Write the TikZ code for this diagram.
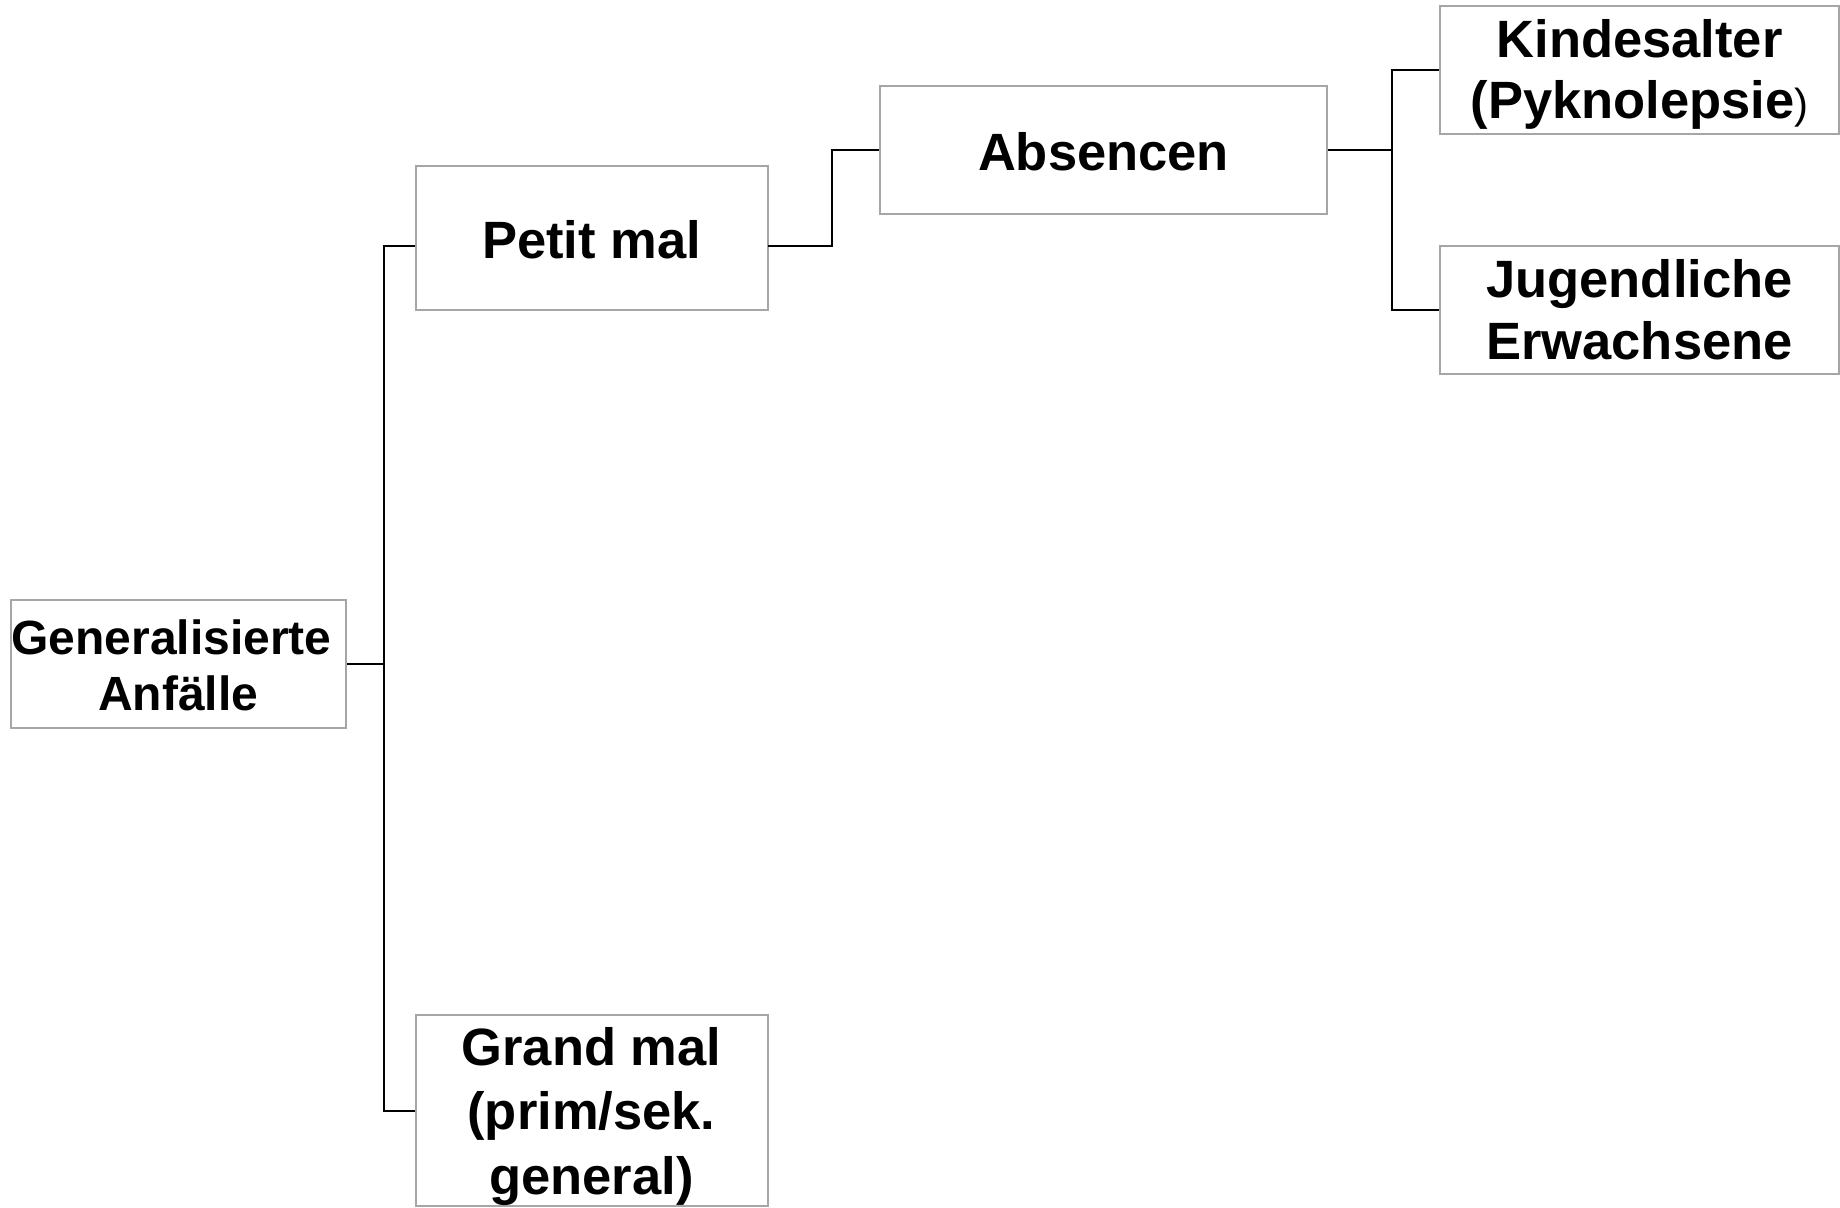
\documentclass[tikz,border=0pt]{standalone}
\usepackage{fontspec}
\setmainfont{Liberation Sans}
\begin{document}
\begin{tikzpicture}[x=0.5pt,y=-0.5pt,
  box/.style={draw=boxgray,line width=1pt,rectangle,inner sep=0pt},
  txt/.style={align=center,inner sep=0pt,font=\bfseries\fontsize{26.25}{30.5}\selectfont},
  conn/.style={draw=black,line width=1pt}]
\definecolor{boxgray}{HTML}{A6A6A6}
\useasboundingbox (0,0) rectangle (1840,1207);
% boxes with their texts
\node[box,minimum width=167.7pt,minimum height=64pt,
  label={[txt,yshift=-0.75pt,font=\bfseries\fontsize{24}{28}\selectfont]center:{Generalisierte\hspace*{0.28em}\\Anfälle}}] (gen) at (178.3,663.6) {};
\node[box,minimum width=176pt,minimum height=72.2pt,
  label={[txt,yshift=-1pt]center:{Petit mal}}] (petit) at (591.5,237.7) {};
\node[box,minimum width=176pt,minimum height=95.5pt,
  label={[txt,yshift=-3pt,font=\bfseries\fontsize{26.25}{32.25}\selectfont]center:{Grand mal\\(prim/sek.\\general)}}] (grand) at (591.5,1110.5) {};
\node[box,minimum width=223.5pt,minimum height=64pt,
  label={[txt,yshift=-1pt]center:{Absencen}}] (abs) at (1103.5,149.6) {};
\node[box,minimum width=199.5pt,minimum height=64pt,
  label={[txt,yshift=-2.5pt]center:{Kindesalter\\(Pyknolepsie{\mdseries\fontsize{21}{24}\selectfont)}}}] (kind) at (1639.5,69.9) {};
\node[box,minimum width=199.5pt,minimum height=64pt,
  label={[txt,font=\bfseries\fontsize{26.25}{31}\selectfont]center:{Jugendliche\\Erwachsene}}] (jug) at (1639.5,310) {};
% junction coordinates
\coordinate (busA) at (383.7,663.6);
\coordinate (pin) at (415.4,246);
\coordinate (pout) at (767.5,246);
\coordinate (busB) at (832,246);
\coordinate (busC) at (1392,149.6);
% connectors
\draw[conn] (gen.east) -- (busA);
\draw[conn] (pin) -- (busA |- pin) -- (busA |- grand.west) -- (grand.west);
\draw[conn] (pout) -- (busB) -- (busB |- abs.west) -- (abs.west);
\draw[conn] (abs.east) -- (busC);
\draw[conn] (kind.west) -- (busC |- kind.west) -- (busC |- jug.west) -- (jug.west);
\end{tikzpicture}
\end{document}
